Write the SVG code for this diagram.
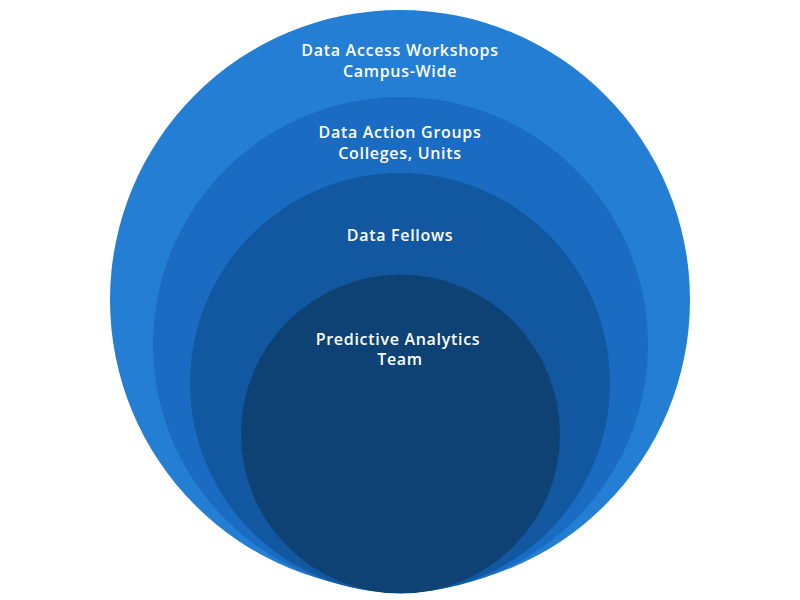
<svg xmlns="http://www.w3.org/2000/svg" width="800" height="600" viewBox="0 0 800 600">
<style>
text{font-family:"Open Sans","Liberation Sans",sans-serif;font-weight:600;font-size:16px;letter-spacing:0.7px;fill:#ffffff;text-anchor:middle}
</style>
<rect width="800" height="600" fill="#ffffff"/>
<g id="ring1"><circle cx="400" cy="300" r="290" fill="#237ED4"/>
<text x="400" y="56">Data Access Workshops</text><text x="400" y="77">Campus-Wide</text></g>
<g id="ring2"><circle cx="400.5" cy="344.5" r="247.5" fill="#1A6CC2"/>
<text x="400" y="138">Data Action Groups</text><text x="400" y="159">Colleges, Units</text></g>
<g id="ring3"><circle cx="400" cy="383" r="210" fill="#1258A0"/>
<text x="400" y="241">Data Fellows</text></g>
<g id="ring4"><circle cx="400.5" cy="434" r="159.5" fill="#0E4275"/>
<text x="398" y="345">Predictive Analytics</text><text x="400" y="365">Team</text></g>
<g id="connectors"/>
</svg>
